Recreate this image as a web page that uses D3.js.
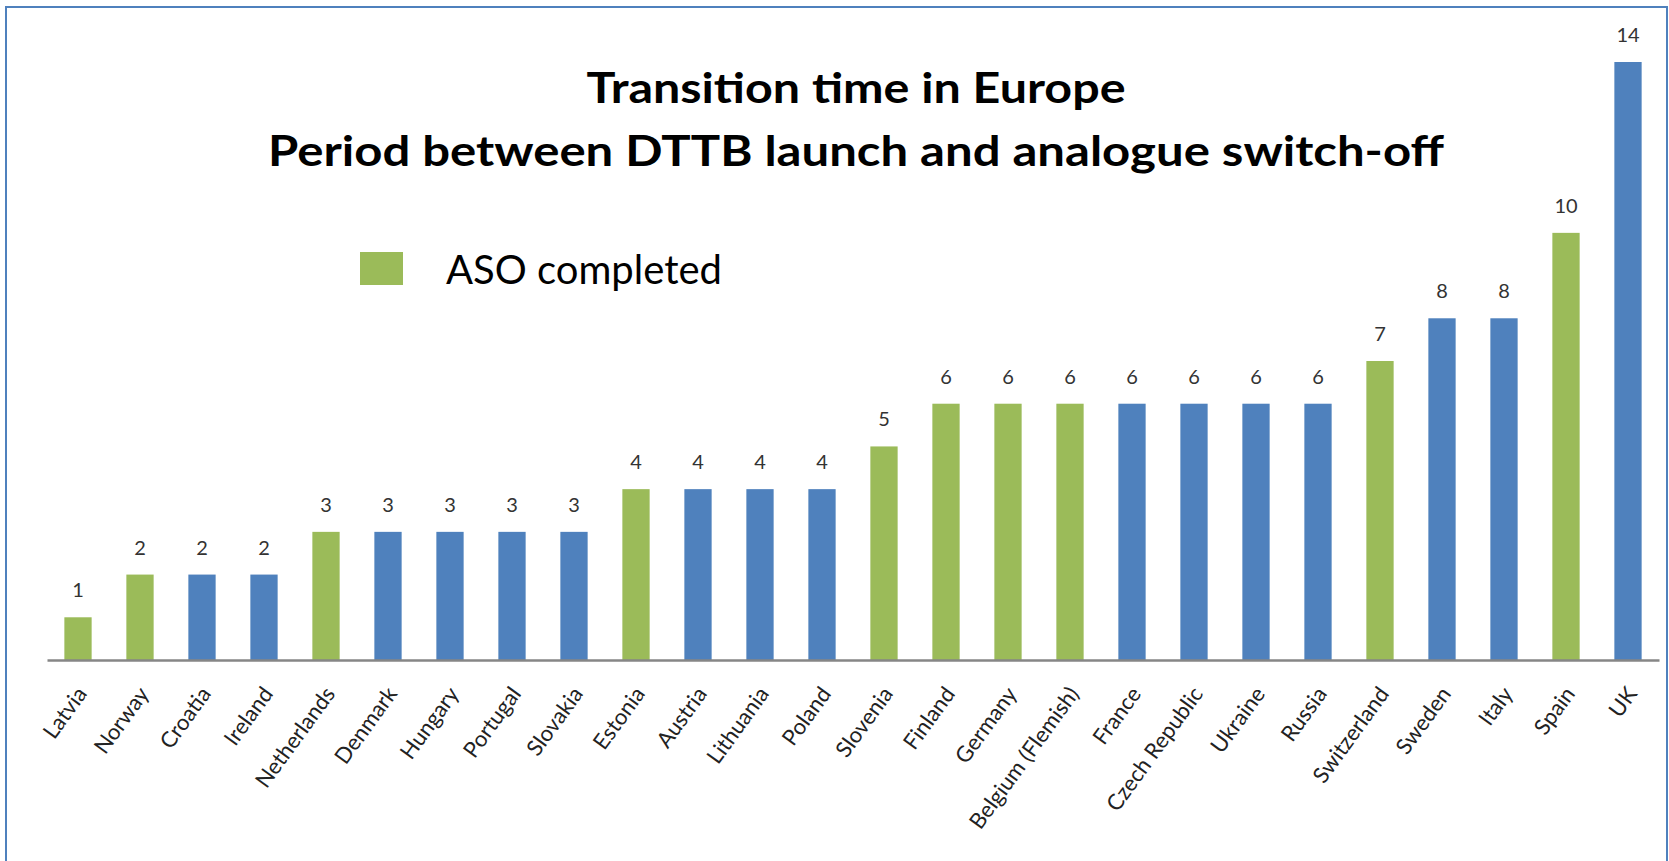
<!DOCTYPE html>
<html>
<head>
<meta charset="utf-8">
<script src="https://cdn.jsdelivr.net/npm/d3@7"></script>
<style>
  body { margin: 0; background: #fff; }
  svg { display: block; font-family: Lato, "Open Sans", sans-serif; }
</style>
</head>
<body>
<div id="chart"></div>
<script>
/*
 * Data
 *****************************/
const countries = ["Latvia", "Norway", "Croatia", "Ireland", "Netherlands", "Denmark", "Hungary", "Portugal",
  "Slovakia", "Estonia", "Austria", "Lithuania", "Poland", "Slovenia", "Finland", "Germany",
  "Belgium (Flemish)", "France", "Czech Republic", "Ukraine", "Russia", "Switzerland", "Sweden",
  "Italy", "Spain", "UK"];
const years = [1, 2, 2, 2, 3, 3, 3, 3, 3, 4, 4, 4, 4, 5, 6, 6, 6, 6, 6, 6, 6, 7, 8, 8, 10, 14];
// true = ASO completed (green)
const asoCompleted = [true, true, false, false, true, false, false, false, false, true, false, false, false,
  true, true, true, true, false, false, false, false, true, false, false, true, false];
const titleLines = ["Transition time in Europe", "Period between DTTB launch and analogue switch-off"];
const legendLabel = "ASO completed";

/*
 * Parameters
 *****************************/
const width = 1669, height = 861;
const GREEN = "#9bbb59", BLUE = "#4f81bd";
const titleWidths = [539, 1176]; // measured width of each title line

const svg = d3.select("#chart").append("svg")
  .attr("width", width)
  .attr("height", height);

// frame
svg.append("rect")
  .attr("x", 6).attr("y", 7)
  .attr("width", 1661).attr("height", 900)
  .attr("fill", "#fff")
  .attr("stroke", BLUE)
  .attr("stroke-width", 2);

const data = countries.map((c, i) => ({ name: c, value: years[i], done: asoCompleted[i] }));

// scales
const x = d3.scaleBand()
  .domain(countries)
  .range([47, 1659])
  .paddingInner(0.56)
  .paddingOuter(0.28);

const y = d3.scaleLinear()
  .domain([0, 14])
  .range([660, 62]);

// bars
svg.append("g").selectAll("rect")
  .data(data)
  .enter()
  .append("rect")
  .attr("x", d => x(d.name))
  .attr("y", d => y(d.value))
  .attr("width", x.bandwidth())
  .attr("height", d => y(0) - y(d.value))
  .attr("fill", d => d.done ? GREEN : BLUE);

// value labels
svg.append("g").selectAll("text")
  .data(data)
  .enter()
  .append("text")
  .attr("x", d => x(d.name) + x.bandwidth() / 2)
  .attr("y", d => y(d.value) - 20)
  .attr("text-anchor", "middle")
  .style("font-size", "20px")
  .attr("fill", "#333")
  .text(d => d.value);

// x axis
const xAxis = d3.axisBottom(x).tickSize(0).tickPadding(0);
const axisG = svg.append("g")
  .attr("transform", `translate(0,${y(0)})`)
  .call(xAxis);

axisG.select(".domain")
  .attr("stroke", "#868686")
  .attr("stroke-width", 2.5);

axisG.selectAll(".tick text")
  .attr("text-anchor", "end")
  .attr("fill", "#222")
  .style("font-size", "22px")
  .style("font-family", "Lato, 'Open Sans', sans-serif")
  .attr("dy", null)
  .attr("y", 0)
  .attr("transform", "translate(10,34) rotate(-54)");

// title
svg.append("g").selectAll("text")
  .data(titleLines)
  .enter()
  .append("text")
  .attr("x", 856)
  .attr("y", (d, i) => 103 + i * 63)
  .attr("text-anchor", "middle")
  .attr("textLength", (d, i) => titleWidths[i])
  .attr("lengthAdjust", "spacingAndGlyphs")
  .style("font-size", "42px")
  .style("font-weight", "bold")
  .attr("fill", "#000")
  .text(d => d);

// legend
svg.append("rect")
  .attr("x", 360).attr("y", 252)
  .attr("width", 43).attr("height", 33)
  .attr("fill", GREEN);

svg.append("text")
  .attr("x", 446).attr("y", 284)
  .style("font-size", "40px")
  .attr("fill", "#000")
  .text(legendLabel);
</script>
</body>
</html>
